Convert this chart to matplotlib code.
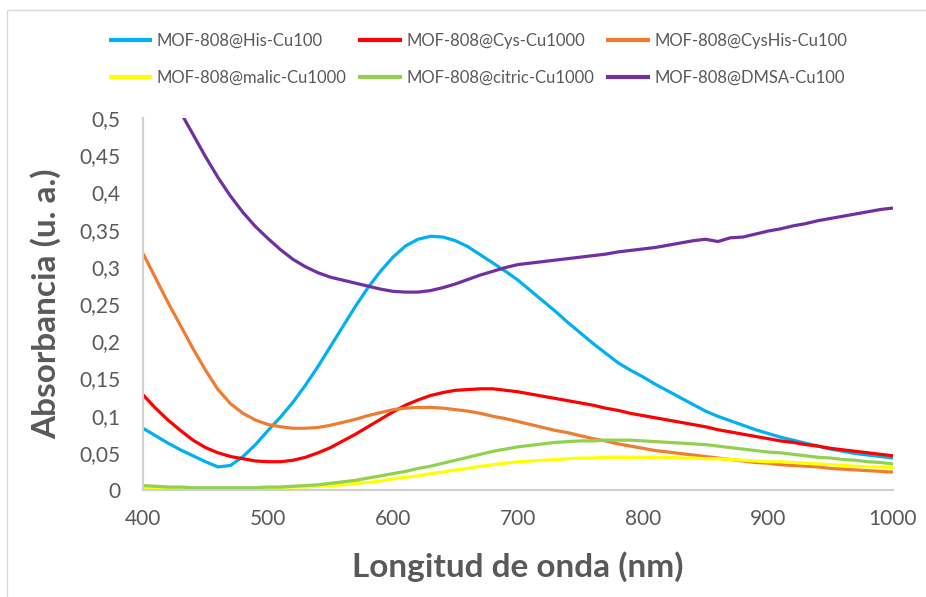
import matplotlib
matplotlib.use("Agg")
import matplotlib.pyplot as plt
from matplotlib.patches import Rectangle
from matplotlib.ticker import FuncFormatter

# Wavelength grid (nm), one reading every 10 nm
wavelength = list(range(400, 1001, 10))

his_cu100 = [0.083, 0.073, 0.063, 0.054, 0.046, 0.038, 0.031, 0.033, 0.045, 0.061,
             0.080, 0.098, 0.118, 0.141, 0.166, 0.193, 0.220, 0.247, 0.272, 0.294,
             0.313, 0.328, 0.337, 0.341, 0.340, 0.335, 0.327, 0.316, 0.305, 0.294,
             0.282, 0.268, 0.254, 0.240, 0.225, 0.211, 0.197, 0.184, 0.171, 0.161,
             0.152, 0.142, 0.133, 0.124, 0.115, 0.106, 0.099, 0.093, 0.087, 0.081,
             0.076, 0.071, 0.067, 0.063, 0.059, 0.055, 0.052, 0.049, 0.047, 0.045,
             0.043]
cys_cu1000 = [0.128, 0.110, 0.094, 0.080, 0.067, 0.057, 0.050, 0.045, 0.042, 0.039,
              0.038, 0.038, 0.040, 0.044, 0.050, 0.057, 0.066, 0.075, 0.085, 0.095,
              0.105, 0.114, 0.121, 0.127, 0.131, 0.134, 0.135, 0.136, 0.136, 0.134,
              0.132, 0.129, 0.126, 0.123, 0.120, 0.117, 0.114, 0.110, 0.107, 0.103,
              0.100, 0.097, 0.094, 0.091, 0.088, 0.085, 0.081, 0.078, 0.075, 0.072,
              0.069, 0.066, 0.064, 0.061, 0.059, 0.056, 0.054, 0.052, 0.050, 0.048,
              0.046]
cyshis_cu100 = [0.318, 0.285, 0.252, 0.221, 0.190, 0.161, 0.135, 0.116, 0.103, 0.094,
                0.088, 0.085, 0.083, 0.083, 0.084, 0.087, 0.091, 0.095, 0.100, 0.104,
                0.108, 0.110, 0.111, 0.111, 0.110, 0.108, 0.106, 0.103, 0.099, 0.096,
                0.092, 0.088, 0.084, 0.080, 0.077, 0.073, 0.069, 0.066, 0.062, 0.059,
                0.056, 0.053, 0.051, 0.049, 0.047, 0.045, 0.043, 0.041, 0.039, 0.037,
                0.036, 0.034, 0.033, 0.032, 0.031, 0.029, 0.028, 0.027, 0.026, 0.025,
                0.024]
malic_cu1000 = [0.004, 0.003, 0.003, 0.002, 0.002, 0.002, 0.002, 0.002, 0.002, 0.002,
                0.003, 0.003, 0.004, 0.004, 0.005, 0.006, 0.007, 0.009, 0.010, 0.012,
                0.015, 0.017, 0.019, 0.022, 0.024, 0.027, 0.029, 0.032, 0.034, 0.036,
                0.038, 0.039, 0.040, 0.041, 0.042, 0.043, 0.043, 0.044, 0.044, 0.044,
                0.044, 0.044, 0.044, 0.043, 0.043, 0.042, 0.042, 0.041, 0.040, 0.039,
                0.038, 0.038, 0.037, 0.036, 0.035, 0.034, 0.033, 0.032, 0.031, 0.031,
                0.030]
citric_cu1000 = [0.006, 0.005, 0.004, 0.004, 0.003, 0.003, 0.003, 0.003, 0.003, 0.003,
                 0.004, 0.004, 0.005, 0.006, 0.007, 0.009, 0.011, 0.013, 0.016, 0.019,
                 0.022, 0.025, 0.029, 0.032, 0.036, 0.040, 0.044, 0.048, 0.052, 0.055,
                 0.058, 0.060, 0.062, 0.064, 0.065, 0.066, 0.066, 0.067, 0.067, 0.067,
                 0.066, 0.065, 0.064, 0.063, 0.062, 0.061, 0.059, 0.057, 0.055, 0.053,
                 0.051, 0.050, 0.048, 0.046, 0.044, 0.043, 0.041, 0.040, 0.038, 0.037,
                 0.035]
dmsa_cu100 = [0.600, 0.570, 0.540, 0.508, 0.478, 0.448, 0.420, 0.395, 0.373, 0.354,
              0.338, 0.323, 0.310, 0.300, 0.292, 0.286, 0.282, 0.278, 0.274, 0.270,
              0.267, 0.266, 0.266, 0.268, 0.272, 0.277, 0.283, 0.289, 0.294, 0.299,
              0.303, 0.305, 0.307, 0.309, 0.311, 0.313, 0.315, 0.317, 0.320, 0.322,
              0.324, 0.326, 0.329, 0.332, 0.335, 0.337, 0.334, 0.339, 0.340, 0.344,
              0.348, 0.351, 0.355, 0.358, 0.362, 0.365, 0.368, 0.371, 0.374, 0.377,
              0.379]

series_labels = ["MOF-808@His-Cu100", "MOF-808@Cys-Cu1000", "MOF-808@CysHis-Cu100",
                 "MOF-808@malic-Cu1000", "MOF-808@citric-Cu1000", "MOF-808@DMSA-Cu100"]
series_values = [his_cu100, cys_cu1000, cyshis_cu100, malic_cu1000, citric_cu1000, dmsa_cu100]
series_colors = ["#00B0F0", "#FF0000", "#ED7D31", "#FFFF00", "#92D050", "#7030A0"]

x_ticks = [400, 500, 600, 700, 800, 900, 1000]
y_ticks = [0, 0.05, 0.1, 0.15, 0.2, 0.25, 0.3, 0.35, 0.4, 0.45, 0.5]

TEXT = "#595959"
AXIS = "#D0D0D0"
FONT = "Lato"

W, H = 926, 597
fig = plt.figure(figsize=(W / 100, H / 100), dpi=100)
fig.patch.set_facecolor("white")

# chart-area frame
fig.patches.append(Rectangle((7 / W, -0.05), 1.2, 1 - 10 / H + 0.05,
                             transform=fig.transFigure, fill=False,
                             edgecolor="#D9D9D9", linewidth=1.0))

ax = fig.add_axes([143 / W, 107 / H, 750 / W, 372 / H])
handles = []
for lab, vals, col in zip(series_labels, series_values, series_colors):
    h, = ax.plot(wavelength, vals, color=col, linewidth=2.3, label=lab,
                 solid_joinstyle="round", solid_capstyle="butt")
    handles.append(h)

ax.set_xlim(400, 1000)
ax.set_ylim(0, 0.5)
ax.set_xticks(x_ticks)
ax.set_yticks(y_ticks)
ax.yaxis.set_major_formatter(FuncFormatter(lambda v, p: ("%g" % v).replace(".", ",")))
ax.tick_params(length=0, labelsize=15, labelcolor=TEXT)
ax.tick_params(axis="y", pad=16)
ax.tick_params(axis="x", pad=14)
for t in ax.get_xticklabels() + ax.get_yticklabels():
    t.set_fontfamily(FONT)

for side in ("top", "right"):
    ax.spines[side].set_visible(False)
for side in ("left", "bottom"):
    ax.spines[side].set_color(AXIS)
    ax.spines[side].set_linewidth(1.5)

ax.set_xlabel("Longitud de onda (nm)", fontsize=24, fontweight="bold",
              color=TEXT, family=FONT, labelpad=16)
ax.set_ylabel("Absorbancia (u. a.)", fontsize=24, fontweight="bold",
              color=TEXT, family=FONT)
ax.yaxis.set_label_coords(-82 / 750, 0.5)

# legend entries fill column-wise, so reorder to read row by row
order = [0, 3, 1, 4, 2, 5]
leg = fig.legend([handles[i] for i in order], [series_labels[i] for i in order],
                 ncol=3, loc="center", bbox_to_anchor=(478 / W, 1 - 59 / H),
                 frameon=False, handlelength=2.6, handletextpad=0.3,
                 columnspacing=0.7, labelspacing=1.25, prop={"family": FONT, "size": 12})
for t in leg.get_texts():
    t.set_color(TEXT)
for lh in leg.get_lines():
    lh.set_linewidth(3)

fig.savefig("out.png", dpi=100)
